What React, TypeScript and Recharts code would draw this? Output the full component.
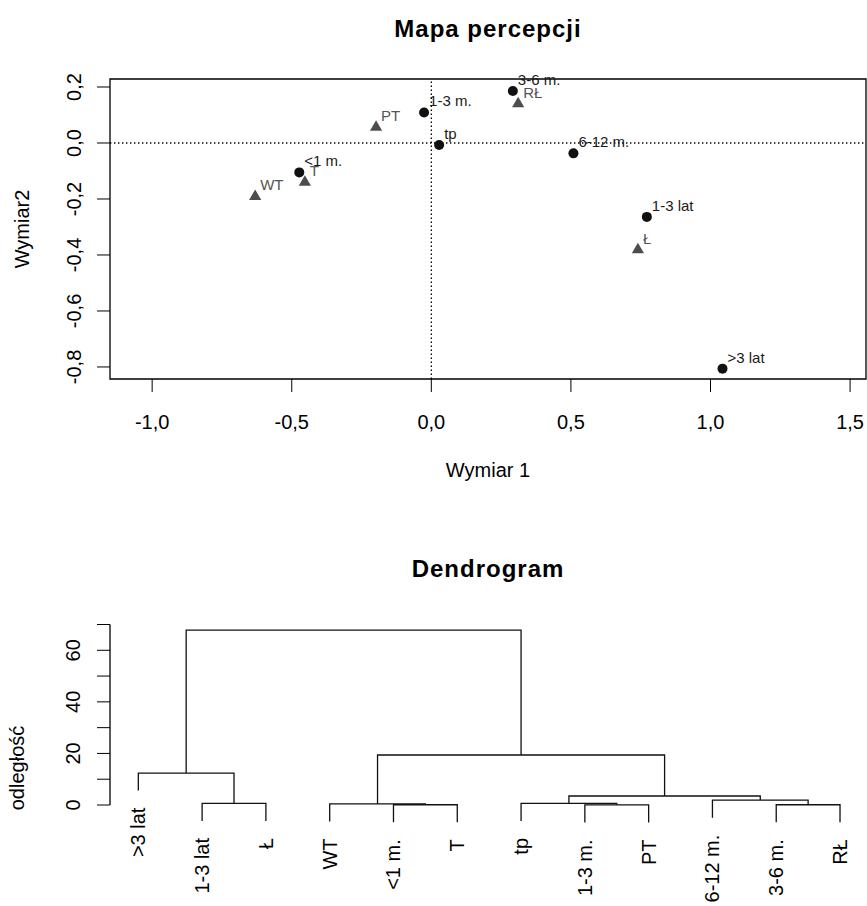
import React from "react";
import {
  ScatterChart,
  Scatter,
  XAxis,
  YAxis,
  ReferenceLine,
  ReferenceArea,
  Customized,
} from "recharts";

const FONT = '"Liberation Sans", Arial, Helvetica, sans-serif';

// --- Mapa percepcji: age groups (circles) ---
const ageLabels = ["<1 m.", "1-3 m.", "3-6 m.", "6-12 m.", "1-3 lat", ">3 lat", "tp"];
const ageDim1 = [-0.473, -0.026, 0.292, 0.509, 0.772, 1.043, 0.028];
const ageDim2 = [-0.105, 0.109, 0.186, -0.037, -0.264, -0.806, -0.007];

// --- Mapa percepcji: brands (triangles) ---
const brandLabels = ["WT", "T", "PT", "RŁ", "Ł"];
const brandDim1 = [-0.631, -0.453, -0.198, 0.311, 0.74];
const brandDim2 = [-0.191, -0.14, 0.056, 0.14, -0.381];

const mapXTicks = [-1, -0.5, 0, 0.5, 1, 1.5];
const mapYTicks = [-0.8, -0.6, -0.4, -0.2, 0, 0.2];
const mapXDomain = [-1.151, 1.557];
const mapYDomain = [-0.843, 0.2286];

// --- Dendrogram (R hclust style merges: negative = leaf, positive = earlier merge) ---
const leafLabels = [">3 lat", "1-3 lat", "Ł", "WT", "<1 m.", "T", "tp", "1-3 m.", "PT", "6-12 m.", "3-6 m.", "RŁ"];
const leafEnds = [5.6, -6.2, -6.2, -6.4, -6.7, -6.7, -6.2, -6.75, -6.75, -4.9, -6.7, -6.7];
const mergeLeft = [-2, -5, -8, -11, -4, -7, -10, 6, -1, 5, 9];
const mergeRight = [-3, -6, -9, -12, 2, 3, 4, 7, 1, 8, 10];
const mergeHeight = [0.6, 0.1, 0.05, 0.1, 0.4, 0.6, 1.9, 3.5, 12.4, 19.4, 67.8];
const distTicks = [0, 10, 20, 30, 40, 50, 60, 70];
const distLabelled = [0, 20, 40, 60];

const ageData = ageLabels.map((label, i) => ({ x: ageDim1[i], y: ageDim2[i], label }));
const brandData = brandLabels.map((label, i) => ({ x: brandDim1[i], y: brandDim2[i], label }));

const mergeX: number[] = [];
const childX = (c: number) => (c < 0 ? -c : mergeX[c - 1]);
const childY = (c: number) => (c < 0 ? leafEnds[-c - 1] : mergeHeight[c - 1]);
mergeLeft.forEach((l, i) => {
  mergeX.push((childX(l) + childX(mergeRight[i])) / 2);
});
const branches = mergeLeft.map((l, i) => {
  const r = mergeRight[i];
  const h = mergeHeight[i];
  return [
    { x: childX(l), y: childY(l) },
    { x: childX(l), y: h },
    { x: childX(r), y: h },
    { x: childX(r), y: childY(r) },
  ];
});
const leafData = leafLabels.map((label, i) => ({ x: i + 1, y: leafEnds[i], label }));

const fmt = (v: number) => v.toFixed(1).replace(".", ",");

const CircleMark = (props: any) => {
  const { cx, cy, payload } = props;
  return (
    <g>
      <circle cx={cx} cy={cy} r={5} fill="#111" />
      <text x={cx + 5} y={cy - 6} fontSize={15} fill="#1a1a1a" fontFamily={FONT}>
        {payload.label}
      </text>
    </g>
  );
};

const TriangleMark = (props: any) => {
  const { cx, cy, payload } = props;
  return (
    <g>
      <polygon
        points={`${cx},${cy - 7} ${cx + 6.1},${cy + 3.5} ${cx - 6.1},${cy + 3.5}`}
        fill="#4d4d4d"
      />
      <text x={cx + 5} y={cy - 6} fontSize={15} fill="#555" fontFamily={FONT}>
        {payload.label}
      </text>
    </g>
  );
};

const MapXTick = (props: any) => (
  <text x={props.x} y={429} textAnchor="middle" fontSize={20} fill="#000" fontFamily={FONT}>
    {fmt(props.payload.value)}
  </text>
);

const MapYTick = (props: any) => (
  <text
    x={81}
    y={props.y}
    transform={`rotate(-90, 81, ${props.y})`}
    textAnchor="middle"
    fontSize={20}
    fill="#000"
    fontFamily={FONT}
  >
    {fmt(props.payload.value)}
  </text>
);

const DistTick = (props: any) =>
  distLabelled.includes(props.payload.value) ? (
    <text
      x={80}
      y={props.y}
      transform={`rotate(-90, 80, ${props.y})`}
      textAnchor="middle"
      fontSize={20}
      fill="#000"
      fontFamily={FONT}
    >
      {props.payload.value}
    </text>
  ) : (
    <g />
  );

const LeafLabel = (props: any) => {
  const { cx, cy, payload } = props;
  const x = cx + 7;
  const y = cy + 17;
  return (
    <text
      x={x}
      y={y}
      transform={`rotate(-90, ${x}, ${y})`}
      textAnchor="end"
      fontSize={20}
      fill="#000"
      fontFamily={FONT}
    >
      {payload.label}
    </text>
  );
};

const MapTexts = () => (
  <g fontFamily={FONT} fill="#000">
    <text x={488} y={37} textAnchor="middle" fontSize={24} fontWeight="bold" letterSpacing={1}>
      Mapa percepcji
    </text>
    <text x={488} y={477} textAnchor="middle" fontSize={20}>
      Wymiar 1
    </text>
    <text x={29} y={229} transform="rotate(-90, 29, 229)" textAnchor="middle" fontSize={20}>
      Wymiar2
    </text>
  </g>
);

const DendroTexts = () => (
  <g fontFamily={FONT} fill="#000">
    <text x={488} y={77} textAnchor="middle" fontSize={24} fontWeight="bold" letterSpacing={1}>
      Dendrogram
    </text>
    <text x={24} y={268} transform="rotate(-90, 24, 268)" textAnchor="middle" fontSize={20}>
      odległość
    </text>
  </g>
);

const noDot = () => <g />;

export default function App() {
  return (
    <div style={{ position: "absolute", left: 0, top: 0, width: 867, height: 906, background: "#fff" }}>
      <div style={{ position: "absolute", left: 0, top: 0 }}>
        <ScatterChart width={867} height={500} margin={{ top: 79, right: 1, bottom: 61, left: 0 }}>
          <XAxis
            type="number"
            dataKey="x"
            domain={mapXDomain}
            ticks={mapXTicks}
            height={60}
            axisLine={false}
            tickSize={13}
            stroke="#000"
            tick={<MapXTick />}
          />
          <YAxis
            type="number"
            dataKey="y"
            domain={mapYDomain}
            ticks={mapYTicks}
            width={110}
            axisLine={false}
            tickSize={13}
            stroke="#000"
            tick={<MapYTick />}
          />
          <ReferenceArea
            x1={mapXDomain[0]}
            x2={mapXDomain[1]}
            y1={mapYDomain[0]}
            y2={mapYDomain[1]}
            fill="none"
            fillOpacity={0}
            stroke="#000"
            strokeWidth={1.3}
          />
          <ReferenceLine x={0} stroke="#000" strokeWidth={1.3} strokeDasharray="1.4 2.6" />
          <ReferenceLine y={0} stroke="#000" strokeWidth={1.3} strokeDasharray="1.4 2.6" />
          <Scatter data={brandData} shape={<TriangleMark />} isAnimationActive={false} />
          <Scatter data={ageData} shape={<CircleMark />} isAnimationActive={false} />
          <Customized component={MapTexts} />
        </ScatterChart>
      </div>
      <div style={{ position: "absolute", left: 0, top: 500 }}>
        <ScatterChart width={867} height={406} margin={{ top: 124.5, right: 0, bottom: 64.9, left: 0 }}>
          <XAxis type="number" dataKey="x" domain={[0.556, 12.423]} hide />
          <YAxis
            type="number"
            dataKey="y"
            domain={[-14, 70]}
            ticks={distTicks}
            width={110}
            axisLine={false}
            tickSize={13}
            stroke="#000"
            tick={<DistTick />}
          />
          <ReferenceLine
            segment={[
              { x: 0.556, y: 0 },
              { x: 0.556, y: 70 },
            ]}
            stroke="#000"
            strokeWidth={1.3}
          />
          {branches.map((pts, i) => (
            <Scatter
              key={i}
              data={pts}
              line={{ stroke: "#111", strokeWidth: 1.3 }}
              shape={noDot}
              isAnimationActive={false}
            />
          ))}
          <Scatter data={leafData} shape={<LeafLabel />} isAnimationActive={false} />
          <Customized component={DendroTexts} />
        </ScatterChart>
      </div>
    </div>
  );
}
